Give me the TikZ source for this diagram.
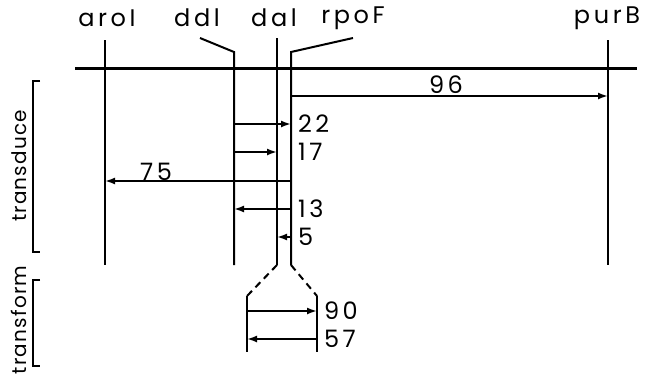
\documentclass[tikz,border=0pt]{standalone}
\usepackage{fontspec}
\setmainfont{Poppins}[LetterSpace=15]
\newfontfamily\sidefont{Poppins}[LetterSpace=6]
\usetikzlibrary{arrows.meta}

\begin{document}
\begin{tikzpicture}[x=1pt,y=-1pt,line width=2pt,
  lbl/.style={font=\fontsize{24}{24}\selectfont,inner sep=0pt},
  side/.style={font=\sidefont\fontsize{20}{20}\selectfont,inner sep=0pt,rotate=90},
  meas/.style={->,>={Latex[length=10pt,width=7pt]},line width=1.8pt}]
  \useasboundingbox (0,0) rectangle (653,380);
  % gene names on top
  \node[lbl] (aroI) at (107,18) {aroI};
  \node[lbl] (ddl) at (197,18) {ddl};
  \node[lbl] (dal) at (274,18) {dal};
  \node[lbl] (rpoF) at (353,18) {rpoF};
  \node[lbl] (purB) at (607,18) {purB};
  % genome line
  \draw[line width=3pt] (75,68) -- (637,68);
  % tracks
  \coordinate (aroI-t) at (105,40);  \coordinate (aroI-b) at (105,265);
  \coordinate (ddl-t) at (200,38);   \coordinate (ddl-b) at (234,265);
  \coordinate (dal-t) at (277,38);   \coordinate (dal-b) at (277,265);
  \coordinate (rpoF-t) at (353,38);  \coordinate (rpoF-b) at (291,265);
  \coordinate (purB-t) at (608,40);  \coordinate (purB-b) at (608,265);
  \draw (aroI-t) -- (aroI-b);
  \draw (ddl-t) -- (234,52) -- (ddl-b);
  \draw (dal-t) -- (dal-b);
  \draw (rpoF-t) -- (291,52) -- (rpoF-b);
  \draw (purB-t) -- (purB-b);
  % transform branch (dashed split)
  \coordinate (tl) at (247,296);  \coordinate (tl-b) at (247,352);
  \coordinate (tr) at (317,296);  \coordinate (tr-b) at (317,352);
  \draw[dash pattern=on 7pt off 5pt] (dal-b) -- (tl);
  \draw[dash pattern=on 7pt off 5pt] (rpoF-b) -- (tr);
  \draw (tl) -- (tl-b);
  \draw (tr) -- (tr-b);
  % transduction distances
  \draw[meas] (rpoF-b |- 0,96) -- (purB-b |- 0,96);
  \node[lbl] (n96) at (446,85) {96};
  \draw[meas] (rpoF-b |- 0,181) -- (aroI-b |- 0,181);
  \node[lbl] (n75) at (156,172) {75};
  \foreach \y/\from/\to/\num in {124/ddl/rpoF/22,152/ddl/dal/17,209/rpoF/ddl/13,237/rpoF/dal/5}{
    \draw[meas] (\from-b |- 0,\y) -- (\to-b |- 0,\y);
    \node[lbl,anchor=west] (n\num) at (297,\y) {\num};
  }
  % transformation distances
  \draw[meas] (tl |- 0,311) -- (tr |- 0,311);
  \node[lbl,anchor=west] (n90) at (323,311) {90};
  \draw[meas] (tr |- 0,339) -- (tl |- 0,339);
  \node[lbl,anchor=west] (n57) at (323,339) {57};
  % brackets
  \draw (40,81) -- (33,81) -- (33,252) -- (40,252);
  \node[side] (td) at (19,166) {transduce};
  \draw (40,280) -- (33,280) -- (33,366) -- (40,366);
  \node[side] (tf) at (19,320) {transform};
\end{tikzpicture}
\end{document}
